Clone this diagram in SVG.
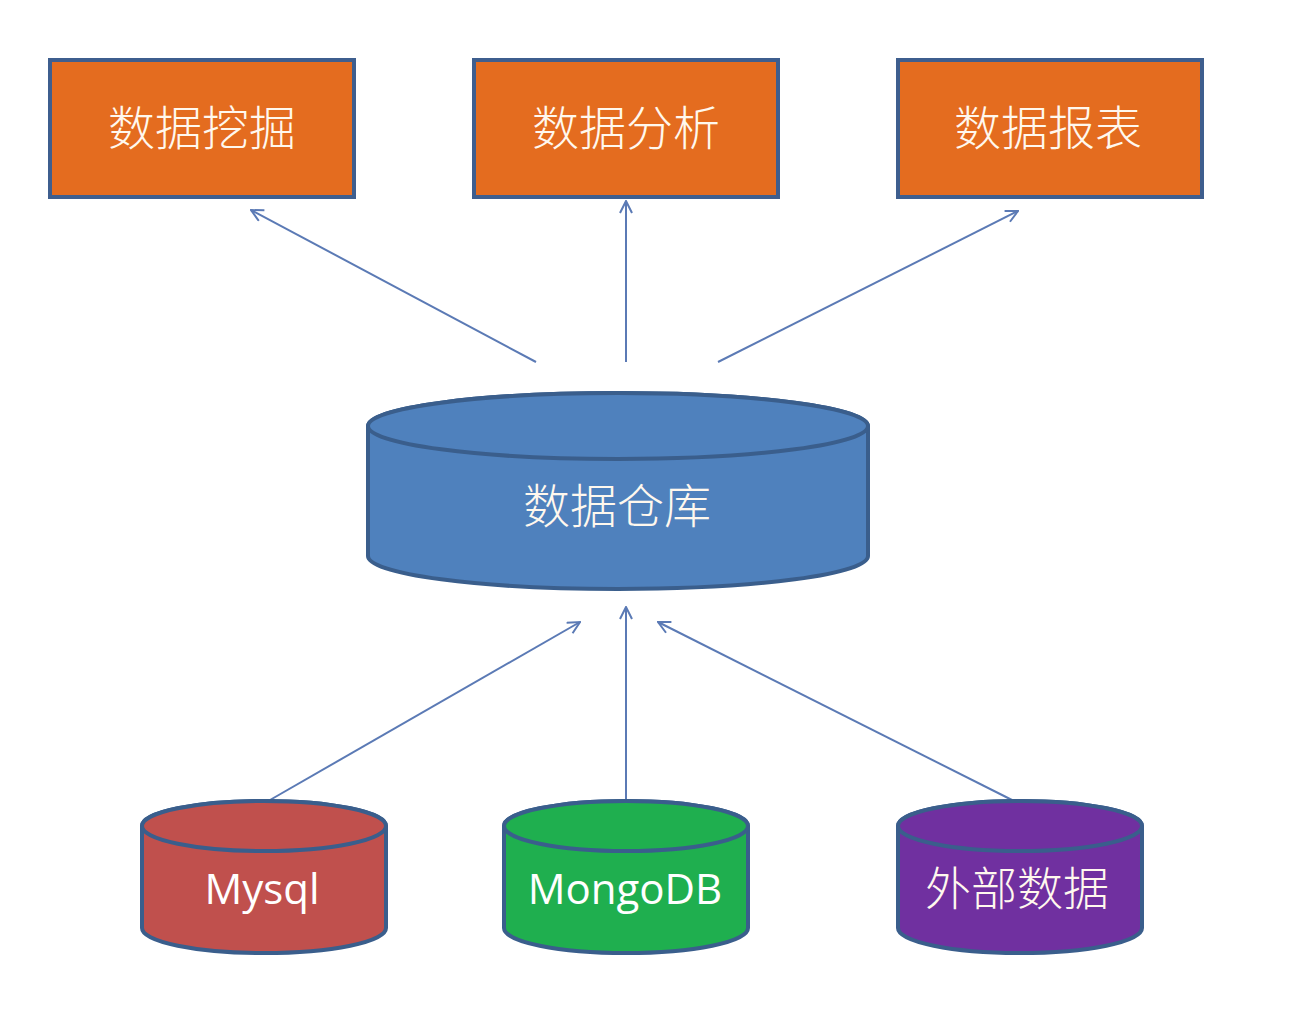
<svg xmlns="http://www.w3.org/2000/svg" width="1316" height="1034" viewBox="0 0 1316 1034">
<defs>
<style>
.box{fill:#E46C1F;stroke:#3E5E8E;stroke-width:4}
.cn{font-family:"Noto Sans CJK SC","Noto Sans",sans-serif;font-weight:300;fill:#FFF8EE;text-anchor:middle;dominant-baseline:central}
.en{font-family:"Open Sans","Liberation Sans",sans-serif;fill:#FFFFFF;text-anchor:middle;dominant-baseline:central}
.cyl{stroke:#3A5E8C;stroke-width:4}
.conn{stroke:#5B7AB5;stroke-width:2;fill:none;marker-end:url(#arr)}
</style>
<marker id="arr" viewBox="0 0 14 14" refX="13" refY="7" markerWidth="14" markerHeight="14" markerUnits="userSpaceOnUse" orient="auto">
<path d="M1,1 L13,7 L1,13" fill="none" stroke="#5B7AB5" stroke-width="2"/>
</marker>
</defs>
<rect width="1316" height="1034" fill="#FFFFFF"/>
<g id="connectors">
<line class="conn" x1="536" y1="362" x2="251" y2="210"/>
<line class="conn" x1="626" y1="362" x2="626" y2="201"/>
<line class="conn" x1="718" y1="362" x2="1018" y2="211"/>
<line class="conn" x1="270" y1="800" x2="580" y2="622"/>
<line class="conn" x1="626" y1="800" x2="626" y2="607"/>
<line class="conn" x1="1012" y1="800" x2="658" y2="622"/>
</g>
<g id="mining">
<rect class="box" x="50" y="60" width="304" height="137"/>
<text class="cn" x="202" y="124" font-size="47">数据挖掘</text>
</g>
<g id="analysis">
<rect class="box" x="474" y="60" width="304" height="137"/>
<text class="cn" x="626" y="124" font-size="47">数据分析</text>
</g>
<g id="report">
<rect class="box" x="898" y="60" width="304" height="137"/>
<text class="cn" x="1048" y="124" font-size="47">数据报表</text>
</g>
<g id="warehouse">
<path class="cyl" fill="#4F81BD" d="M368,426 L368,556 A250,33 0 0 0 868,556 L868,426 A250,33 0 0 0 368,426 Z"/>
<ellipse class="cyl" fill="#4F81BD" cx="618" cy="426" rx="250" ry="33"/>
<text class="cn" x="617" y="502" font-size="47">数据仓库</text>
</g>
<g id="mysql">
<path class="cyl" fill="#C0504D" d="M142,826 L142,928 A122,25 0 0 0 386,928 L386,826 A122,25 0 0 0 142,826 Z"/>
<ellipse class="cyl" fill="#C0504D" cx="264" cy="826" rx="122" ry="25"/>
<text class="en" x="262" y="887" font-size="42">Mysql</text>
</g>
<g id="mongodb">
<path class="cyl" fill="#1FAF4F" d="M504,826 L504,928 A122,25 0 0 0 748,928 L748,826 A122,25 0 0 0 504,826 Z"/>
<ellipse class="cyl" fill="#1FAF4F" cx="626" cy="826" rx="122" ry="25"/>
<text class="en" x="625" y="887" font-size="42">MongoDB</text>
</g>
<g id="external">
<path class="cyl" fill="#7030A0" d="M898,826 L898,928 A122,25 0 0 0 1142,928 L1142,826 A122,25 0 0 0 898,826 Z"/>
<ellipse class="cyl" fill="#7030A0" cx="1020" cy="826" rx="122" ry="25"/>
<text class="cn" x="1017" y="885" font-size="46">外部数据</text>
</g>
</svg>
